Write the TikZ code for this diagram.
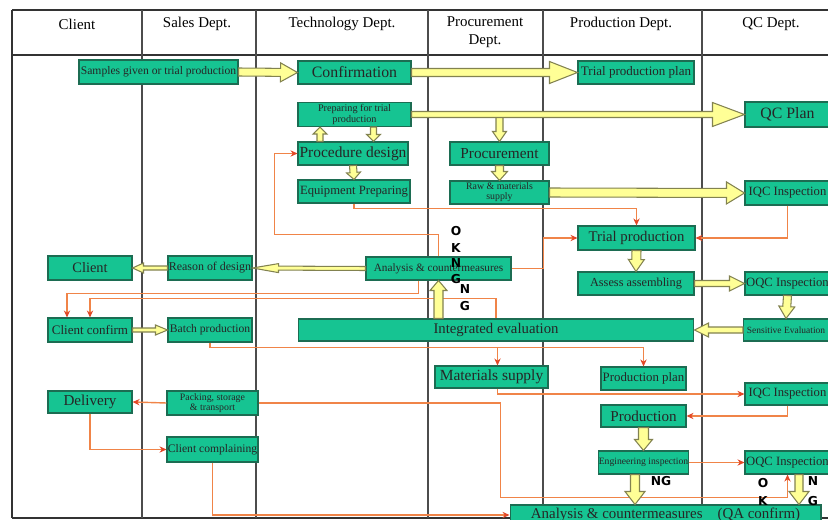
\documentclass[tikz,border=0pt]{standalone}
\usepackage{fontspec}
\setmainfont{Liberation Serif}
\newfontfamily\tagfont{DejaVu Sans}
\usetikzlibrary{calc,arrows.meta}

\definecolor{boxgreen}{RGB}{22,196,146}
\definecolor{boxedge}{RGB}{28,108,82}
\definecolor{pale}{RGB}{255,255,150}
\definecolor{paleedge}{RGB}{130,130,80}
\definecolor{wire}{RGB}{240,132,72}
\definecolor{wiretip}{RGB}{226,72,40}

% block arrow: from, to, half shaft, half head, head length (in px)
\newcommand{\fatarrow}[5]{%
  \coordinate (fa-base) at ($(#2)!#5*0.02cm!(#1)$);
  \draw[bigarrow] ($(#1)!#3*0.02cm!90:(#2)$) -- ($(fa-base)!#3*0.02cm!90:(#2)$)
    -- ($(fa-base)!#4*0.02cm!90:(#2)$) -- (#2)
    -- ($(fa-base)!#4*0.02cm!-90:(#2)$) -- ($(fa-base)!#3*0.02cm!-90:(#2)$)
    -- ($(#1)!#3*0.02cm!-90:(#2)$) -- cycle;}

\begin{document}
\begin{tikzpicture}[x=0.02cm, y=-0.02cm,
    dept/.style={draw=boxedge, fill=boxgreen, line width=0.6pt, inner sep=0pt, minimum height=0.48cm, text=black!85, align=center},
    fs/.style={font=\fontsize{#1}{#1}\selectfont},
    head/.style={font=\fontsize{8.5}{10.2}\selectfont, align=center, inner sep=0pt},
    link/.style={draw=wire, line width=0.8pt, -{Stealth[length=4pt,width=3.6pt,color=wiretip]}},
    bigarrow/.style={draw=paleedge, fill=pale, line width=0.6pt},
    frame/.style={draw=black!80, line width=1.2pt},
    lane/.style={draw=black!70, line width=0.7pt},
    tag/.style={font=\tagfont\bfseries\fontsize{7}{9.6}\selectfont, align=center, inner sep=0pt}]
  \useasboundingbox (0,0) rectangle (828,520);
  \clip (0,0) rectangle (828,520);

  % table
  \draw[frame] (12,10) -- (828,10);
  \draw[frame] (12,55) -- (828,55);
  \draw[frame] (12,518) -- (828,518);
  \draw[frame, line width=1.4pt] (12,10) -- (12,518);
  \foreach \x in {142,256,428,543,702}
    \draw[lane] (\x,10) -- (\x,518);

  \node[head] (hclient) at (77,24) {Client};
  \node[head] (hsales) at (197,24) {Sales Dept.};
  \node[head] (htech) at (342,24) {Technology Dept.};
  \node[head] (hproc) at (485,32) {Procurement\\Dept.};
  \node[head] (hprod) at (621,24) {Production Dept.};
  \node[head] (hqc) at (771,24) {QC Dept.};

  % boxes
  \node[dept, fs=6.6, minimum width=3.18cm] (samples) at (158.5,72) {Samples given or trial production};
  \node[dept, fs=9, minimum width=2.26cm, minimum height=0.46cm] (confirm) at (354.5,72.5) {Confirmation};
  \node[dept, fs=7.4, minimum width=2.32cm, minimum height=0.46cm] (trialplan) at (636,72.5) {Trial production plan};
  \node[dept, fs=5.8, minimum width=2.26cm] (prep) at (354.5,114.5) {Preparing for trial\\production};
  \node[dept, fs=9, minimum width=1.7cm, minimum height=0.5cm] (qcplan) at (787.5,114.5) {QC Plan};
  \node[dept, fs=8.8, minimum width=2.2cm, minimum height=0.46cm] (procdesign) at (353,153.5) {Procedure design};
  \node[dept, fs=7.2, minimum width=2.24cm, minimum height=0.46cm] (equip) at (354,191.5) {Equipment Preparing};
  \node[dept, fs=8.7, minimum width=1.98cm, minimum height=0.46cm] (procure) at (499.5,153.5) {Procurement};
  \node[dept, fs=5.6, minimum width=1.98cm, minimum height=0.46cm] (raw) at (499.5,192.5) {Raw \& materials\\supply};
  \node[dept, fs=7.2, minimum width=1.7cm] (iqc1) at (787.5,193) {IQC Inspection};
  \node[dept, fs=8.4, minimum width=2.34cm] (trialprod) at (636.5,238) {Trial production};
  \node[dept, fs=8.2, minimum width=1.68cm] (client) at (90,268) {Client};
  \node[dept, fs=6.8, minimum width=1.68cm] (reason) at (210,268) {Reason of design};
  \node[dept, fs=6.4, minimum width=2.9cm, minimum height=0.46cm] (analysis) at (438.5,268.5) {Analysis \& countermeasures};
  \node[dept, fs=7, minimum width=2.32cm, minimum height=0.46cm] (assess) at (636,283.5) {Assess assembling};
  \node[dept, fs=7.2, minimum width=1.7cm, minimum height=0.46cm] (oqc1) at (787.5,283.5) {OQC Inspection};
  \node[dept, fs=7.4, minimum width=1.68cm] (confirmc) at (90,330) {Client confirm};
  \node[dept, fs=6.6, minimum width=1.68cm] (batch) at (210,330) {Batch production};
  \node[dept, fs=8.4, minimum width=7.92cm, minimum height=0.44cm] (integ) at (496,330) {Integrated evaluation};
  \node[dept, fs=5.4, minimum width=1.7cm, minimum height=0.44cm] (sensitive) at (786,330) {Sensitive Evaluation};
  \node[dept, fs=8.8, minimum width=2.26cm, minimum height=0.44cm] (matsupply) at (491.5,377) {Materials supply};
  \node[dept, fs=7.3, minimum width=1.7cm, minimum height=0.46cm] (prodplan) at (643.5,378.5) {Production plan};
  \node[dept, fs=7.2, minimum width=1.7cm, minimum height=0.44cm] (iqc2) at (787.5,394) {IQC Inspection};
  \node[dept, fs=8.6, minimum width=1.7cm, minimum height=0.44cm] (production) at (643.5,416) {Production};
  \node[dept, fs=8.6, minimum width=1.68cm, minimum height=0.44cm] (delivery) at (90,402) {Delivery};
  \node[dept, fs=5.6, minimum width=1.82cm] (packing) at (212.5,403) {Packing, storage\\\& transport};
  \node[dept, fs=6.6, minimum width=1.82cm, minimum height=0.5cm] (complain) at (212.5,449.5) {Client complaining};
  \node[dept, fs=5.5, minimum width=1.7cm, minimum height=0.46cm] (enginsp) at (643.5,462.5) {Engineering inspection};
  \node[dept, fs=7.2, minimum width=1.7cm, minimum height=0.46cm] (oqc2) at (787.5,462.5) {OQC Inspection};
  \node[dept, fs=8.5, minimum width=6.22cm, minimum height=0.4cm] (qa) at (665.5,515) {Analysis \& countermeasures\quad(QA confirm)};

  % orange flow lines
  \draw[link] (equip.south) -- ++(0,5) -| (trialprod.north);
  \draw[link] (analysis.north) -- ++(0,-22) -| ($(procdesign.west)+(-23,0)$) -- (procdesign.west);
  \draw[link] (analysis.east) -- ++(32,0) |- (trialprod.west);
  \draw[link] (iqc1.south) |- (trialprod.east);
  \draw[link] ($(analysis.south)+(-20,0)$) -- ++(0,13) -| ($(confirmc.north)+(-23,0)$);
  \draw[link] (integ.north) -- ++(0,-20) -| (confirmc.north);
  \draw[link] (batch.south) -- ++(0,5) -| (prodplan.north);
  \draw[link] ($(batch.south)+(0,5)$) -| ($(matsupply.north)+(6,0)$);
  \draw[link] ($(matsupply.south)+(6,0)$) |- (iqc2.west);
  \draw[link] (iqc2.south) |- (production.east);
  \draw[link] (packing.west) -- (delivery.east);
  \draw[link] (packing.east) -- ++(242,0) |- ($(oqc2.south)+(0,23)$) -- (oqc2.south);
  \draw[link] (delivery.south) |- (complain.west);
  \draw[link] (complain.south) |- (qa.west);
  \draw[link] (enginsp.east) -- (oqc2.west);

  % block arrows
  \coordinate (tap) at (procure.north |- prep.east);
  \coordinate (pu1) at ([xshift=-0.66cm]procdesign.north);
  \coordinate (pu2) at (pu1 |- prep.south);
  \coordinate (pd1) at ([xshift=0.38cm]prep.south);
  \coordinate (pd2) at (pd1 |- procdesign.north);
  \coordinate (ia1) at (analysis.south |- integ.north);
  \coordinate (eq1) at ([xshift=-0.17cm]enginsp.south);
  \coordinate (eq2) at (eq1 |- qa.north);
  \coordinate (oq1) at ([xshift=0.23cm]oqc2.south);
  \coordinate (oq2) at (oq1 |- qa.north);

  \fatarrow{samples.east}{confirm.west}{4}{9.5}{17}
  \fatarrow{confirm.east}{trialplan.west}{4}{11}{28}
  \fatarrow{tap}{procure.north}{3.5}{7}{10}
  \fatarrow{prep.east}{qcplan.west}{3}{12}{32}
  \fatarrow{pu1}{pu2}{3}{7}{7}
  \fatarrow{pd1}{pd2}{3}{7}{7}
  \fatarrow{procdesign.south}{equip.north}{3.5}{7}{7}
  \fatarrow{procure.south}{raw.north}{4}{8}{9}
  \fatarrow{raw.east}{iqc1.west}{4.5}{11}{18}
  \fatarrow{trialprod.south}{assess.north}{4.5}{8}{12}
  \fatarrow{assess.east}{oqc1.west}{3}{7.5}{15}
  \fatarrow{oqc1.south}{sensitive.north}{4}{8}{12}
  \fatarrow{sensitive.west}{integ.east}{3}{7}{14}
  \fatarrow{ia1}{analysis.south}{4.5}{8.5}{10}
  \fatarrow{analysis.west}{reason.east}{2}{4.5}{26}
  \fatarrow{reason.west}{client.east}{2}{5}{11}
  \fatarrow{confirmc.east}{batch.west}{2}{5}{12}
  \fatarrow{production.south}{enginsp.north}{5}{9}{11}
  \fatarrow{eq1}{eq2}{4.5}{10}{13}
  \fatarrow{oq1}{oq2}{4}{10}{13}

  % OK / NG marks
  \node[tag] (ok1) at (456,239.5) {O\\K};
  \node[tag, font=\tagfont\bfseries\fontsize{7}{9}\selectfont] (ng1) at (456,271) {N\\G};
  \node[tag] (ng2) at (465,297.5) {N\\G};
  \node[tag] (ng3) at (661,481) {NG};
  \node[tag, font=\tagfont\bfseries\fontsize{7}{10.5}\selectfont] (ok2) at (763,492) {O\\K};
  \node[tag, font=\tagfont\bfseries\fontsize{7}{11}\selectfont] (ng4) at (813,491) {N\\G};
\end{tikzpicture}
\end{document}
